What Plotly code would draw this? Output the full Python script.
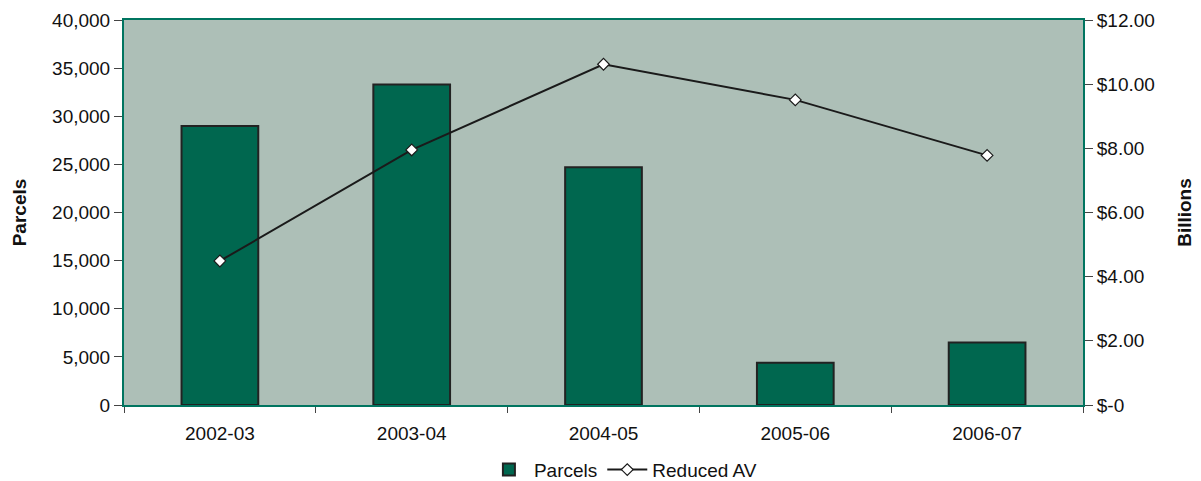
import plotly.graph_objects as go

categories = ["2002-03", "2003-04", "2004-05", "2005-06", "2006-07"]
parcels = [29000, 33300, 24700, 4400, 6500]
reduced_av = [4.49, 7.95, 10.62, 9.51, 7.78]
left_ticks = [0, 5000, 10000, 15000, 20000, 25000, 30000, 35000, 40000]
right_ticks = [0, 2, 4, 6, 8, 10, 12]
right_labels = ["$-0", "$2.00", "$4.00", "$6.00", "$8.00", "$10.00", "$12.00"]

FONT = "Liberation Sans, Arial, sans-serif"
AXIS_COLOR = "#007560"

fig = go.Figure()
fig.add_trace(go.Bar(
    x=categories, y=parcels, name="Parcels",
    marker=dict(color="#00674F", line=dict(color="#222222", width=2)),
    width=0.4, yaxis="y",
))
fig.add_trace(go.Scatter(
    x=categories, y=reduced_av, name="Reduced AV", yaxis="y2",
    mode="lines+markers",
    line=dict(color="#1a1a1a", width=2),
    marker=dict(symbol="diamond", size=9, color="white",
                line=dict(color="#1a1a1a", width=1.2)),
))

fig.update_layout(
    width=1201, height=481,
    margin=dict(l=116, r=126, t=12, b=84),
    paper_bgcolor="white",
    plot_bgcolor="#ADBFB7",
    font=dict(family=FONT, size=19, color="#111111"),
    showlegend=True,
    legend=dict(orientation="h", xref="container", x=0.512, xanchor="center",
                yref="container", y=0.04, yanchor="middle",
                font=dict(size=19), traceorder="normal", itemwidth=40),
    bargap=0.6,
    xaxis=dict(
        type="category", showgrid=False, showline=True, linecolor=AXIS_COLOR, linewidth=2,
        ticks="outside", tickson="boundaries", ticklen=6, tickcolor="#444444",
        mirror=True, zeroline=False, automargin=False, tickfont=dict(size=19),
        ticklabelstandoff=10,
    ),
    yaxis=dict(
        title=dict(text="<b>Parcels</b>", font=dict(size=19), standoff=20),
        range=[0, 40000], tickvals=left_ticks, tickformat=",d",
        showgrid=False, showline=True, linecolor=AXIS_COLOR, linewidth=2,
        ticks="outside", ticklen=8, tickcolor="#444444", zeroline=False,
        automargin=False,
    ),
    yaxis2=dict(
        title=dict(text="<b>Billions</b>", font=dict(size=19), standoff=24),
        overlaying="y", side="right", range=[0, 12],
        tickvals=right_ticks, ticktext=right_labels,
        showgrid=False, showline=True, linecolor=AXIS_COLOR, linewidth=2,
        ticks="outside", ticklen=8, tickcolor="#444444", zeroline=False,
        automargin=False,
    ),
)

fig.write_html("out.html")
